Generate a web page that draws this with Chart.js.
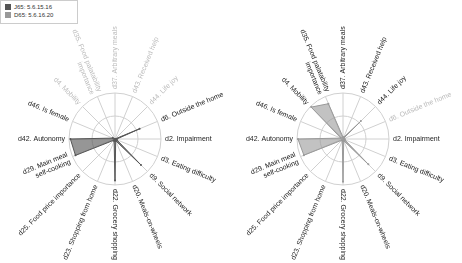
<!DOCTYPE html>
<html>
<head>
<meta charset="utf-8">
<script src="https://cdn.jsdelivr.net/npm/chart.js@4.4.0/dist/chart.umd.min.js"></script>
<style>
  html, body { margin: 0; padding: 0; background: #fff; }
  #wrap { position: relative; width: 462px; height: 263px; overflow: hidden; }
  canvas { position: absolute; top: 0; }
  #c1 { left: 0; }
  #c2 { left: 231px; }
  #legend {
    position: absolute; left: 0; top: 0; width: 76px; height: 22px;
    border: 1px solid #ccc; background: #fff;
    font: 6px "Liberation Sans", Arial, sans-serif; color: #333;
  }
  .row { position: absolute; left: 4px; height: 7px; line-height: 7px; }
  .row i { display: inline-block; width: 6px; height: 6px; vertical-align: top; margin-right: 3px; }
</style>
</head>
<body>
<div id="wrap">
  <canvas id="c1" width="231" height="263"></canvas>
  <canvas id="c2" width="231" height="263"></canvas>
  <div id="legend">
    <div class="row" style="top:3px"><i style="background:#555"></i>J65: 5.6.15.16</div>
    <div class="row" style="top:11px"><i style="background:#999"></i>D65: 5.6.16.20</div>
  </div>
</div>
<script>
// categories clockwise from the top
const categories = [
    'd37. Arbitrary meals',
    'd43. Received help',
    'd44. Life joy',
    'd6. Outside the home',
    'd2. Impairment',
    'd3. Eating difficulty',
    'd9. Social network',
    'd20. Meals-on-wheels',
    'd22. Grocery shopping',
    'd23. Shopping from home',
    'd25. Food price importance',
    ['d29. Main meal', 'self-cooking'],
    'd42. Autonomy',
    'd46. Is female',
    'd4. Mobility',
    ['d35. Food palatability', 'importance']
];

const j65Values = [0, 0, 0, 0.58, 0.04, 0.04, 0.8, 0.04, 0.9, 0.05, 0.04, 0.93, 0.97, 0.05, 0, 0];
const d65Values = [0.04, 0.04, 0.55, 0, 0.04, 0.04, 0.78, 0.04, 0.93, 0.04, 0.04, 0.92, 0.98, 0.05, 0.98, 0.83];

// labels drawn in light gray
const j65Muted = [0, 1, 2, 14, 15];
const d65Muted = [3];

// draws the point labels rotated along the spokes
const rotatedLabels = {
    id: 'rotatedLabels',
    afterDraw(chart, args, opts) {
        const scale = chart.scales.r;
        const ctx = chart.ctx;
        ctx.save();
        ctx.font = '7px "Liberation Sans", Arial, sans-serif';
        ctx.textBaseline = 'middle';
        categories.forEach((label, i) => {
            const pos = scale.getPointPosition(i, scale.drawingArea + 4);
            const lines = Array.isArray(label) ? label : [label];
            const right = Math.cos(pos.angle) > -1e-6;
            ctx.save();
            ctx.translate(pos.x, pos.y);
            ctx.rotate(right ? pos.angle : pos.angle + Math.PI);
            ctx.textAlign = right ? 'left' : 'right';
            ctx.fillStyle = opts.muted.includes(i) ? '#bbb' : '#222';
            lines.forEach((line, k) => ctx.fillText(line, 0, (k - (lines.length - 1) / 2) * 8));
            ctx.restore();
        });
        ctx.restore();
    }
};

function makeRadar(id, values, color, fill, muted, padding) {
    return new Chart(document.getElementById(id), {
        type: 'radar',
        data: {
            labels: categories,
            datasets: [{
                data: values,
                borderColor: color,
                backgroundColor: fill,
                borderWidth: 1,
                pointRadius: 1,
                pointBackgroundColor: color,
                pointBorderWidth: 0,
                fill: true
            }]
        },
        options: {
            responsive: false,
            animation: false,
            layout: { padding: padding },
            plugins: {
                legend: { display: false },
                tooltip: { enabled: false },
                rotatedLabels: { muted: muted }
            },
            scales: {
                r: {
                    min: 0,
                    max: 1,
                    ticks: { display: false, stepSize: 0.5 },
                    grid: { circular: true, color: '#d0d0d0', lineWidth: 1 },
                    angleLines: { color: '#d0d0d0', lineWidth: 1 },
                    pointLabels: { display: false }
                }
            }
        },
        plugins: [rotatedLabels]
    });
}

makeRadar('c1', j65Values, '#555', 'rgba(85,85,85,0.62)', j65Muted,
    { left: 69, right: 69, top: 93, bottom: 77 });
makeRadar('c2', d65Values, '#999', 'rgba(153,153,153,0.6)', d65Muted,
    { left: 66, right: 72, top: 93, bottom: 77 });
</script>
</body>
</html>
